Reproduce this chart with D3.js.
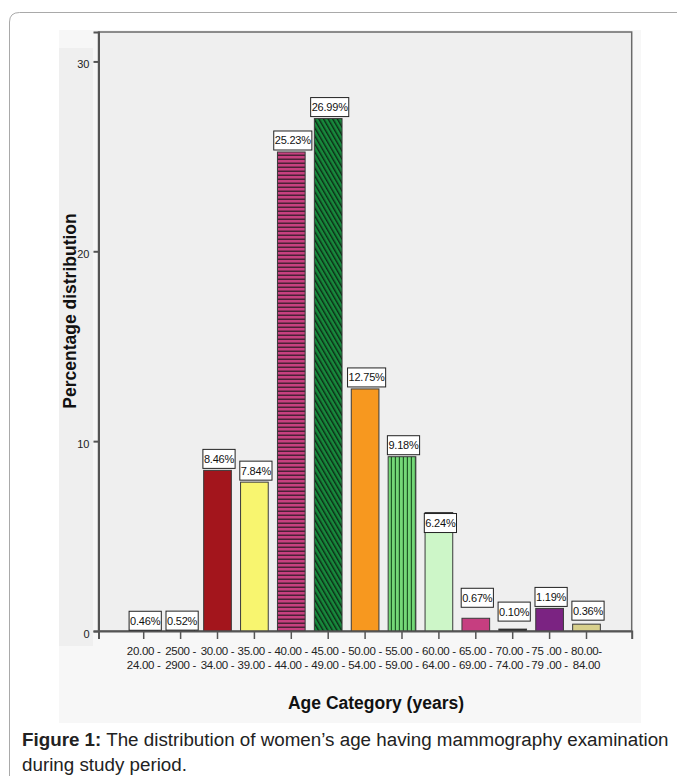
<!DOCTYPE html>
<html>
<head>
<meta charset="utf-8">
<script src="https://cdn.jsdelivr.net/npm/d3@7"></script>
<style>
  html, body { margin: 0; padding: 0; background: #ffffff; }
  svg { display: block; font-family: "Liberation Sans", Arial, sans-serif; }
</style>
</head>
<body>
<svg id="chart" width="677" height="783"></svg>
<script>
// Age groups (two-line tick labels) and share of women examined, in percent
const categories = ["20-24", "25-29", "30-34", "35-39", "40-44", "45-49", "50-54",
                    "55-59", "60-64", "65-69", "70-74", "75-79", "80-84"];
const tickLine1 = ["20.00 -", "2500 -", "30.00 -", "35.00 -", "40.00 -", "45.00 -", "50.00 -",
                   "55.00 -", "60.00 -", "65.00 -", "70.00 -", "75 .00 -", "80.00-"];
const tickLine2 = ["24.00 -", "2900 -", "34.00 -", "39.00 -", "44.00 -", "49.00 -", "54.00 -",
                   "59.00 -", "64.00 -", "69.00 -", "74.00 -", "79 .00 -", "84.00"];
const percentages = [0.46, 0.52, 8.46, 7.84, 25.23, 26.99, 12.75, 9.18, 6.24, 0.67, 0.10, 1.19, 0.36];
const yTicks = [0, 10, 20, 30];

// Bar fills: plain colours or pattern ids defined below
const barFills = ["#8fa8c8", "#b8b8b8", "#a3151c", "#f8f56f", "url(#hstripe)", "url(#diag)",
                  "#f7981f", "url(#vstripe)", "#cdf6c8", "#c63e80", "#111111", "#7b2382", "#d8d08c"];

// Vertical nudge of each value box (px, positive = higher) so boxes do not collide
const labelRaise = [-10, -11, 0, 0, 0, 0, 0, 0, -22, 9, 6, 0, 2];

const svg = d3.select("#chart");

// Outer figure frame (rounded top-left corner)
svg.append("path")
  .attr("d", "M9.5,776 V22 Q9.5,12.5 19.5,12.5 H677")
  .attr("fill", "none").attr("stroke", "#a9a9a9").attr("stroke-width", 1);

// Chart background and tick-label strip
svg.append("rect").attr("x", 59).attr("y", 30).attr("width", 582).attr("height", 693).attr("fill", "#f7f7f7");
svg.append("rect").attr("x", 59).attr("y", 48).attr("width", 34).attr("height", 598).attr("fill", "#efefef");

const plot = { left: 98.5, right: 631.7, top: 32, bottom: 631 };

const x = d3.scaleBand()
  .domain(categories)
  .range([plot.left, plot.right])
  .paddingInner(0.25)
  .paddingOuter(0.85);

const y = d3.scaleLinear()
  .domain([0, 31.55])
  .range([plot.bottom, plot.top]);

// Patterns
const defs = svg.append("defs");
const hs = defs.append("pattern").attr("id", "hstripe").attr("patternUnits", "userSpaceOnUse")
  .attr("width", 8).attr("height", 4);
hs.append("rect").attr("width", 8).attr("height", 4).attr("fill", "#c7407f");
hs.append("rect").attr("y", 2.5).attr("width", 8).attr("height", 1.5).attr("fill", "#4b2136");

const dg = defs.append("pattern").attr("id", "diag").attr("patternUnits", "userSpaceOnUse")
  .attr("width", 4).attr("height", 4).attr("patternTransform", "rotate(-30)");
dg.append("rect").attr("width", 4).attr("height", 4).attr("fill", "#178a3c");
dg.append("rect").attr("width", 1.4).attr("height", 4).attr("fill", "#0d2a16");

const vs = defs.append("pattern").attr("id", "vstripe").attr("patternUnits", "userSpaceOnUse")
  .attr("width", 4).attr("height", 8);
vs.append("rect").attr("width", 4).attr("height", 8).attr("fill", "#74d877");
vs.append("rect").attr("x", 2.8).attr("width", 1.2).attr("height", 8).attr("fill", "#1f5a26");

// Plot area
svg.append("rect")
  .attr("x", plot.left).attr("y", plot.top)
  .attr("width", plot.right - plot.left).attr("height", plot.bottom - plot.top)
  .attr("fill", "#efefef").attr("stroke", "#6a6a6a").attr("stroke-width", 1.5);

// Bars
svg.append("g").selectAll("rect")
  .data(percentages)
  .join("rect")
  .attr("x", (d, i) => x(categories[i]))
  .attr("y", d => y(d))
  .attr("width", x.bandwidth())
  .attr("height", d => y(0) - y(d))
  .attr("fill", (d, i) => barFills[i])
  .attr("stroke", "#3a3a3a").attr("stroke-width", 1);

// Y axis
const yAxis = svg.append("g")
  .attr("transform", `translate(${plot.left},0)`)
  .call(d3.axisLeft(y).tickValues(yTicks).tickFormat(d3.format("d")).tickSize(5).tickPadding(4));
yAxis.select(".domain").attr("stroke", "#555").attr("stroke-width", 2);
yAxis.selectAll(".tick line").attr("stroke", "#555").attr("stroke-width", 2);
yAxis.selectAll(".tick text")
  .attr("font-size", 11).attr("fill", "#222")
  .attr("font-family", "'Liberation Sans', Arial, sans-serif")
  .attr("dy", "0.55em");

// X axis
const xAxis = svg.append("g")
  .attr("transform", `translate(0,${plot.bottom})`)
  .call(d3.axisBottom(x).tickSize(8).tickFormat(""));
xAxis.select(".domain").attr("stroke", "#555").attr("stroke-width", 2);
xAxis.selectAll(".tick line").attr("stroke", "#555").attr("stroke-width", 1.5);

const xl = svg.append("g").attr("font-size", 11.5).attr("fill", "#222").attr("text-anchor", "middle");
categories.forEach((c, i) => {
  const cx = x(c) + x.bandwidth() / 2;
  xl.append("text").attr("x", cx).attr("y", 655).attr("letter-spacing", -0.3).text(tickLine1[i]);
  xl.append("text").attr("x", cx).attr("y", 669).attr("letter-spacing", -0.3).text(tickLine2[i]);
});

// Value boxes
const lbl = svg.append("g");
percentages.forEach((v, i) => {
  const cx = x(categories[i]) + x.bandwidth() / 2 + 1.5;
  const txt = v.toFixed(2) + "%";
  const g = lbl.append("g");
  const t = g.append("text")
    .attr("x", cx).attr("text-anchor", "middle")
    .attr("font-size", 11).attr("letter-spacing", -0.2).attr("fill", "#111")
    .text(txt);
  const w = t.node().getComputedTextLength() + 2;
  const bottom = y(v) - 2 - labelRaise[i];
  const h = 19;
  g.insert("rect", "text")
    .attr("x", cx - w / 2).attr("y", bottom - h)
    .attr("width", w).attr("height", h)
    .attr("fill", "#ffffff").attr("stroke", "#222").attr("stroke-width", 1);
  t.attr("y", bottom - h / 2 + 4);
});

// Axis titles
svg.append("text")
  .attr("transform", "translate(76,311) rotate(-90)")
  .attr("text-anchor", "middle")
  .attr("font-size", 17.5).attr("font-weight", "bold").attr("fill", "#111")
  .text("Percentage distribution");

svg.append("text")
  .attr("x", 376).attr("y", 709)
  .attr("text-anchor", "middle")
  .attr("font-size", 17.5).attr("font-weight", "bold").attr("fill", "#111")
  .text("Age Category (years)");

// Figure caption
const cap = svg.append("text").attr("x", 22).attr("y", 746)
  .attr("font-size", 18.8).attr("fill", "#222");
cap.append("tspan").attr("font-weight", "bold").text("Figure 1:");
cap.append("tspan").text(" The distribution of women\u2019s age having mammography examination");
svg.append("text").attr("x", 22).attr("y", 771)
  .attr("font-size", 18.8).attr("fill", "#222")
  .text("during study period.");
</script>
</body>
</html>
